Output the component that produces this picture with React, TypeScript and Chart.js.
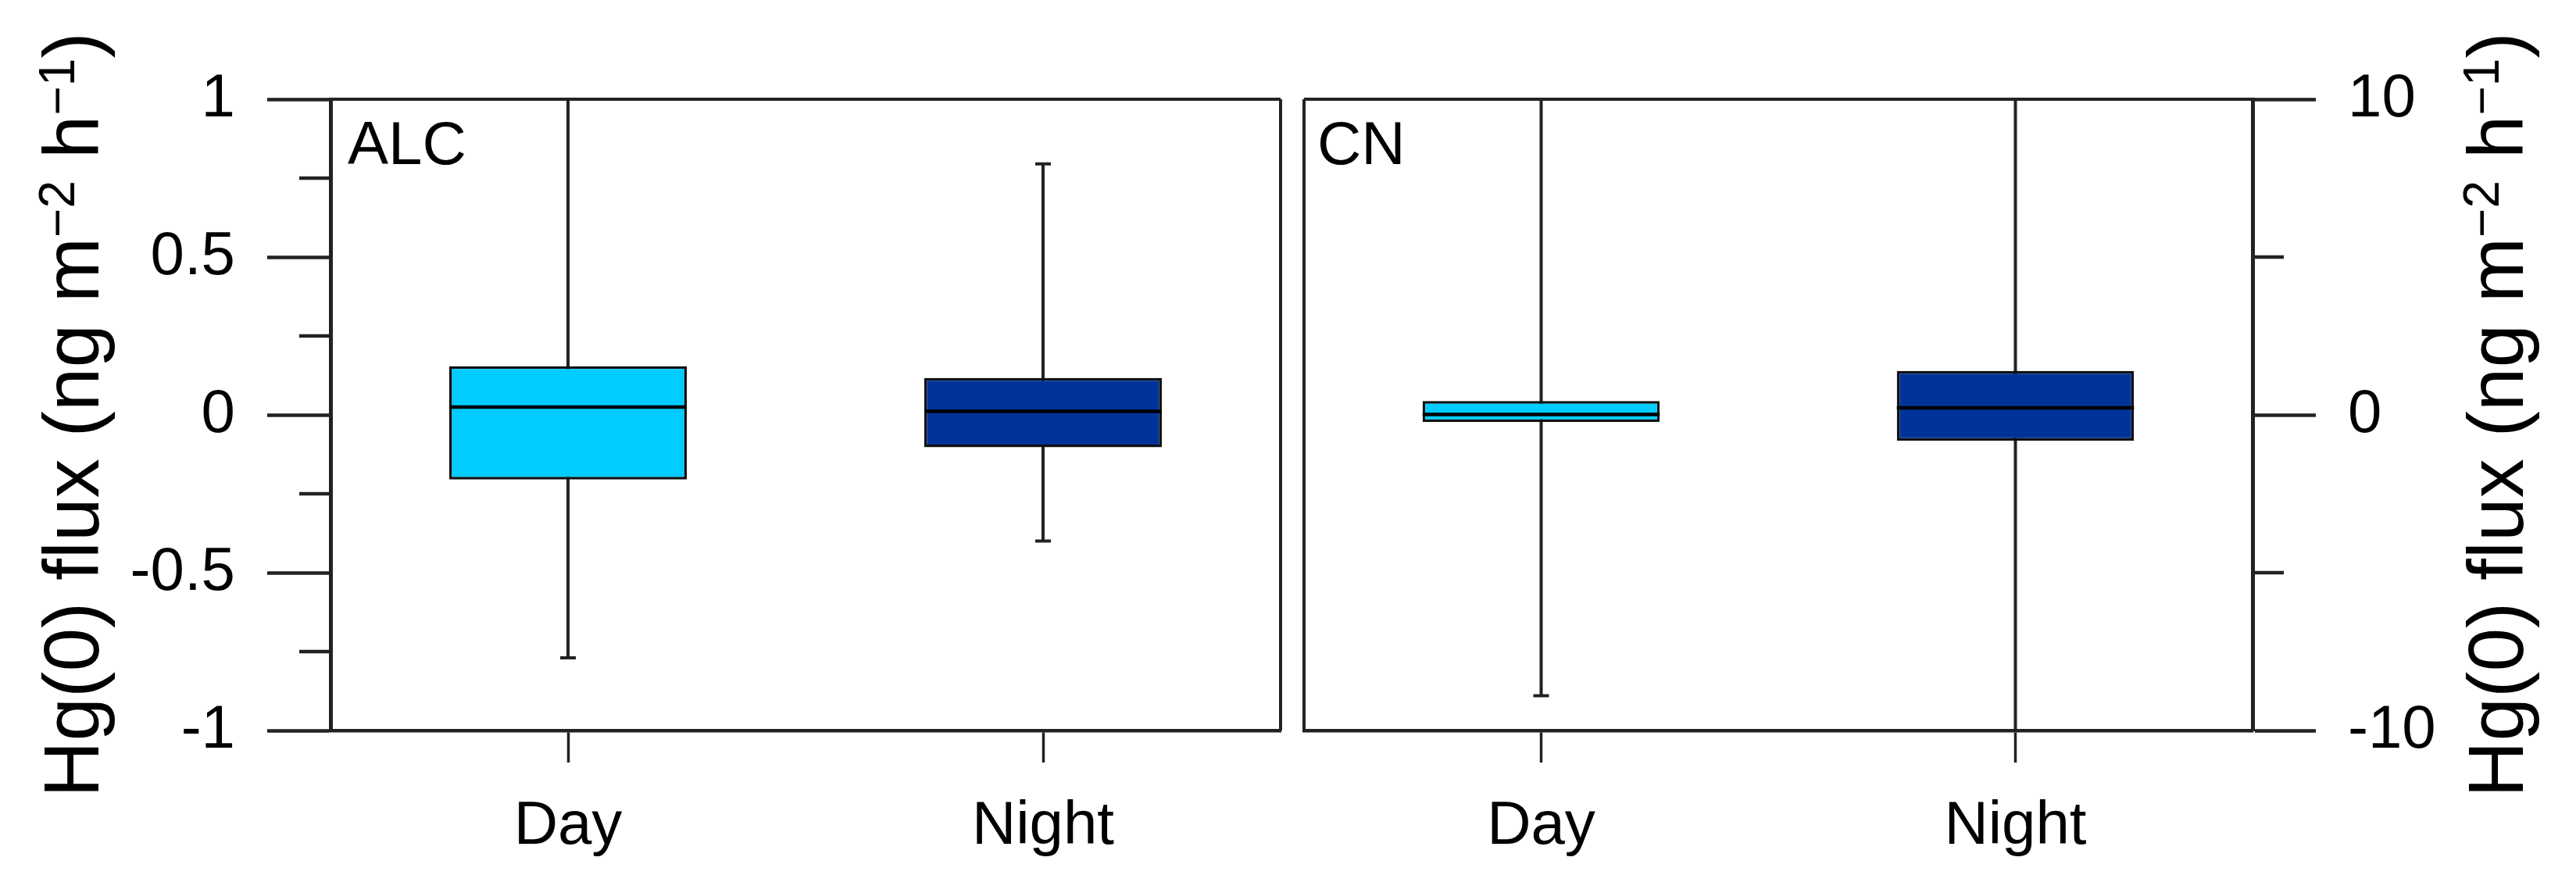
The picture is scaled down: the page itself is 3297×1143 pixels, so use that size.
import React, { useEffect, useRef } from "react";
import { Chart, registerables } from "chart.js";

Chart.register(...registerables);

// ---------------- data ----------------
const categories = ["Day", "Night"];

const alcMin = [-0.77, -0.4];
const alcQ1 = [-0.205, -0.103];
const alcMedian = [0.025, 0.011];
const alcQ3 = [0.154, 0.117];
const alcMax = [1.0, 0.795];

const cnMin = [-8.9, -10];
const cnQ1 = [-0.23, -0.82];
const cnMedian = [0.01, 0.22];
const cnQ3 = [0.44, 1.39];
const cnMax = [10, 10];

const alcTicks = [-1, -0.5, 0, 0.5, 1];
const alcMinorTicks = [-0.75, -0.25, 0.25, 0.75];
const cnTicks = [-10, 0, 10];
const cnMinorTicks = [-5, 5];

const boxColors = ["#00CCFF", "#003399"];
const panelLabels = ["ALC", "CN"];
const yTitleParts = [
  { text: "Hg(0) flux (ng m", sup: false },
  { text: "\u22122", sup: true },
  { text: " h", sup: false },
  { text: "\u22121", sup: true },
  { text: ")", sup: false },
];

// ---------------- styles ----------------
const FONT = "'Liberation Sans', Arial, Helvetica, sans-serif";
const LINE = "#222222";

type PanelCfg = {
  side: "left" | "right";
  label: string;
  mins: number[];
  q1: number[];
  med: number[];
  q3: number[];
  maxs: number[];
  ticks: number[];
  minor: number[];
  yMin: number;
  yMax: number;
  canvasWidth: number;
};

function makePlugin(cfg: PanelCfg) {
  return {
    id: "boxExtras",
    beforeDatasetsDraw(chart: any) {
      const { ctx } = chart;
      const y = chart.scales.y;
      const meta = chart.getDatasetMeta(0);
      ctx.save();
      ctx.strokeStyle = LINE;
      ctx.lineWidth = 4;
      cfg.mins.forEach((mn, i) => {
        const el = meta.data[i];
        if (!el) return;
        const x = el.x;
        const y1 = y.getPixelForValue(mn);
        const y2 = y.getPixelForValue(cfg.maxs[i]);
        ctx.beginPath();
        ctx.moveTo(x, y1);
        ctx.lineTo(x, y2);
        ctx.moveTo(x - 10, y1);
        ctx.lineTo(x + 10, y1);
        ctx.moveTo(x - 10, y2);
        ctx.lineTo(x + 10, y2);
        ctx.stroke();
      });
      ctx.restore();
    },
    afterDatasetsDraw(chart: any) {
      const { ctx } = chart;
      const y = chart.scales.y;
      const meta = chart.getDatasetMeta(0);
      ctx.save();
      ctx.strokeStyle = "#000";
      ctx.lineWidth = 4.5;
      cfg.med.forEach((m, i) => {
        const el = meta.data[i];
        if (!el) return;
        const py = y.getPixelForValue(m);
        ctx.beginPath();
        ctx.moveTo(el.x - el.width / 2, py);
        ctx.lineTo(el.x + el.width / 2, py);
        ctx.stroke();
      });
      ctx.restore();
    },
    afterDraw(chart: any) {
      const { ctx, chartArea } = chart;
      const { left, right, top, bottom } = chartArea;
      const y = chart.scales.y;
      ctx.save();
      // frame
      ctx.strokeStyle = LINE;
      ctx.lineWidth = 4;
      ctx.beginPath();
      ctx.moveTo(left, top);
      ctx.lineTo(right, top);
      if (cfg.side === "left") {
        ctx.moveTo(right, top);
        ctx.lineTo(right, bottom);
      } else {
        ctx.moveTo(left, top);
        ctx.lineTo(left, bottom);
      }
      ctx.stroke();
      // minor ticks
      ctx.lineWidth = 4.5;
      ctx.beginPath();
      cfg.minor.forEach((v) => {
        const py = y.getPixelForValue(v);
        if (cfg.side === "left") {
          ctx.moveTo(left - 40, py);
          ctx.lineTo(left, py);
        } else {
          ctx.moveTo(right, py);
          ctx.lineTo(right + 40, py);
        }
      });
      ctx.stroke();
      // panel label
      ctx.fillStyle = "#000";
      ctx.font = `78px ${FONT}`;
      ctx.textAlign = "left";
      ctx.textBaseline = "alphabetic";
      ctx.fillText(cfg.label, left + (cfg.side === "left" ? 22 : 17), top + 83);
      // y title with superscripts
      const big = `100px ${FONT}`;
      const small = `64px ${FONT}`;
      const widths = yTitleParts.map((p) => {
        ctx.font = p.sup ? small : big;
        return ctx.measureText(p.text).width;
      });
      const total = widths.reduce((a, b) => a + b, 0);
      const cy = (top + bottom) / 2;
      const bx = cfg.side === "left" ? left - 297 : right + 346;
      ctx.translate(bx, cy + total / 2);
      ctx.rotate(-Math.PI / 2);
      let x = 0;
      yTitleParts.forEach((p, i) => {
        ctx.font = p.sup ? small : big;
        ctx.fillText(p.text, x, p.sup ? -31 : 0);
        x += widths[i];
      });
      ctx.restore();
    },
  };
}

function makeConfig(cfg: PanelCfg) {
  const isLeft = cfg.side === "left";
  return {
    type: "bar" as const,
    data: {
      labels: categories,
      datasets: [
        {
          data: categories.map((_, i) => [cfg.q1[i], cfg.q3[i]]),
          backgroundColor: boxColors,
          borderColor: "#111111",
          borderWidth: 3.5,
          borderSkipped: false,
          barPercentage: 0.5,
          categoryPercentage: 1,
        },
      ],
    },
    options: {
      animation: false,
      responsive: false,
      maintainAspectRatio: false,
      events: [],
      layout: {
        padding: isLeft
          ? { left: 0, right: 15, top: 127, bottom: 0 }
          : { left: 15, right: 0, top: 127, bottom: 0 },
      },
      plugins: {
        legend: { display: false },
        tooltip: { enabled: false },
      },
      scales: {
        x: {
          type: "category",
          offset: true,
          grid: {
            display: true,
            offset: false,
            drawOnChartArea: false,
            drawTicks: true,
            tickLength: 41,
            tickWidth: 3.5,
            tickColor: LINE,
          },
          border: { display: true, width: 4.5, color: LINE },
          ticks: {
            font: { family: FONT, size: 78 },
            color: "#000",
            padding: 36,
            maxRotation: 0,
            autoSkip: false,
          },
          afterFit: (s: any) => {
            s.height = 208;
          },
        },
        y: {
          type: "linear",
          position: cfg.side,
          min: cfg.yMin,
          max: cfg.yMax,
          afterBuildTicks: (s: any) => {
            s.ticks = cfg.ticks.map((v) => ({ value: v }));
          },
          grid: {
            drawOnChartArea: false,
            drawTicks: true,
            tickLength: 81,
            tickWidth: 4.5,
            tickColor: LINE,
          },
          border: { display: true, width: 5, color: LINE },
          ticks: {
            font: { family: FONT, size: 78 },
            color: "#000",
            padding: 41,
            callback: (v: any) => String(v),
          },
          afterFit: (s: any) => {
            s.width = isLeft ? 423 : cfg.canvasWidth - 1229;
          },
        },
      },
    },
    plugins: [makePlugin(cfg)],
  };
}

const LEFT_W = 1654;
const RIGHT_W = 3297 - LEFT_W;
const H = 1143;

export default function App() {
  const leftRef = useRef<HTMLCanvasElement | null>(null);
  const rightRef = useRef<HTMLCanvasElement | null>(null);

  useEffect(() => {
    const charts: Chart[] = [];
    if (leftRef.current) {
      charts.push(
        new Chart(
          leftRef.current,
          makeConfig({
            side: "left",
            label: panelLabels[0],
            mins: alcMin,
            q1: alcQ1,
            med: alcMedian,
            q3: alcQ3,
            maxs: alcMax,
            ticks: alcTicks,
            minor: alcMinorTicks,
            yMin: -1,
            yMax: 1,
            canvasWidth: LEFT_W,
          }) as any
        )
      );
    }
    if (rightRef.current) {
      charts.push(
        new Chart(
          rightRef.current,
          makeConfig({
            side: "right",
            label: panelLabels[1],
            mins: cnMin,
            q1: cnQ1,
            med: cnMedian,
            q3: cnQ3,
            maxs: cnMax,
            ticks: cnTicks,
            minor: cnMinorTicks,
            yMin: -10,
            yMax: 10,
            canvasWidth: RIGHT_W,
          }) as any
        )
      );
    }
    return () => charts.forEach((c) => c.destroy());
  }, []);

  return (
    <div
      style={{
        position: "fixed",
        left: 0,
        top: 0,
        width: 3297,
        height: H,
        background: "#fff",
        overflow: "hidden",
      }}
    >
      <canvas
        ref={leftRef}
        width={LEFT_W}
        height={H}
        style={{ position: "absolute", left: 0, top: 0, width: LEFT_W, height: H, display: "block" }}
      />
      <canvas
        ref={rightRef}
        width={RIGHT_W}
        height={H}
        style={{ position: "absolute", left: LEFT_W, top: 0, width: RIGHT_W, height: H, display: "block" }}
      />
    </div>
  );
}
